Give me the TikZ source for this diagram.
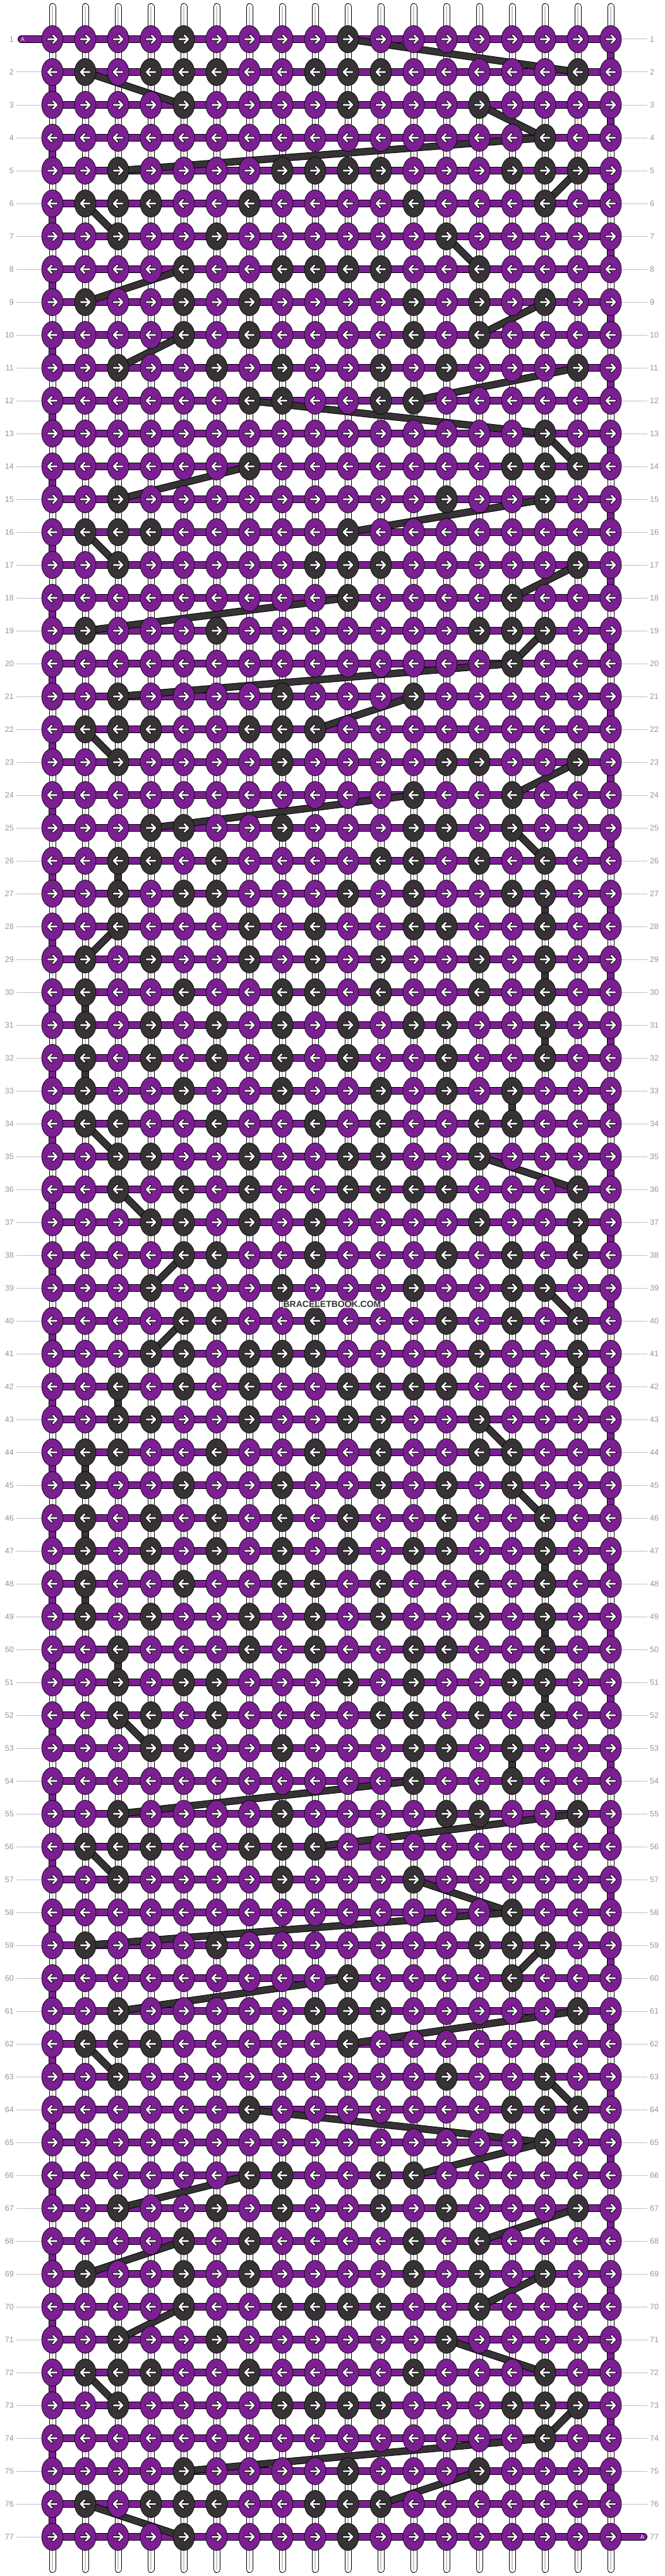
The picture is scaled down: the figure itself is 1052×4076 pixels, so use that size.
\documentclass[tikz,border=0pt]{standalone}
\usepackage{fontspec}
\setmainfont{Liberation Sans}
\usetikzlibrary{shapes.geometric}
\definecolor{purp}{RGB}{123,31,146}
\definecolor{dk}{RGB}{54,50,54}
\definecolor{numgray}{RGB}{150,150,150}
\definecolor{linegray}{RGB}{192,192,192}
\definecolor{stripe}{RGB}{200,200,200}
\pgfdeclarelayer{bg}
\pgfdeclarelayer{mid}
\pgfsetlayers{bg,mid,main}
\newcommand\rowdef[2]{\expandafter\gdef\csname dkrow#1\endcsname{#2}}
\rowdef{1}{5,10}
\rowdef{2}{2,4,5,6,9,10,11,17}
\rowdef{3}{5,10,14}
\rowdef{4}{16}
\rowdef{5}{3,8,9,10,11,15,16,17}
\rowdef{6}{2,3,4,7,12,16}
\rowdef{7}{3,6,13}
\rowdef{8}{5,8,9,10,11,14}
\rowdef{9}{2,5,7,12,14,16}
\rowdef{10}{5,7,12,14}
\rowdef{11}{3,6,8,11,13,17}
\rowdef{12}{7,8,11,12}
\rowdef{13}{16}
\rowdef{14}{7,15,16,17}
\rowdef{15}{3,13,16}
\rowdef{16}{2,3,4,10}
\rowdef{17}{3,9,10,11,17}
\rowdef{18}{10,15}
\rowdef{19}{2,6,14,15,16}
\rowdef{20}{15}
\rowdef{21}{3,8,12}
\rowdef{22}{2,3,4,7,8,9}
\rowdef{23}{3,8,13,14,17}
\rowdef{24}{12,15}
\rowdef{25}{4,5,8,12,13,15}
\rowdef{26}{3,4,6,11,12,14,16}
\rowdef{27}{3,5,6,10,12,15,16}
\rowdef{28}{3,7,9,12,13,16}
\rowdef{29}{2,4,7,9,11,14,16}
\rowdef{30}{2,5,8,9,11,14,16}
\rowdef{31}{2,4,6,8,10,12,13,16}
\rowdef{32}{2,4,6,8,10,13,16}
\rowdef{33}{2,5,8,11,13,15}
\rowdef{34}{2,3,6,9,11,14,15}
\rowdef{35}{3,4,7,10,11,14}
\rowdef{36}{3,5,7,10,11,12,13,17}
\rowdef{37}{4,5,7,9,14,17}
\rowdef{38}{5,6,9,13,15,17}
\rowdef{39}{4,8,12,15,16}
\rowdef{40}{5,6,9,13,15,17}
\rowdef{41}{4,5,7,8,9,14,17}
\rowdef{42}{3,5,7,10,11,12,13,17}
\rowdef{43}{3,4,7,10,11,14}
\rowdef{44}{2,3,6,9,11,14,15}
\rowdef{45}{2,5,8,11,13,15}
\rowdef{46}{2,4,6,8,10,13,16}
\rowdef{47}{2,4,6,8,10,12,13,16}
\rowdef{48}{2,5,8,9,11,14,16}
\rowdef{49}{2,4,7,9,11,14,16}
\rowdef{50}{3,7,9,12,13,16}
\rowdef{51}{3,5,6,10,12,15,16}
\rowdef{52}{3,4,6,11,12,14,16}
\rowdef{53}{4,5,8,12,13,15}
\rowdef{54}{12,15}
\rowdef{55}{3,8,13,14,17}
\rowdef{56}{2,3,4,7,8,9}
\rowdef{57}{3,8,12}
\rowdef{58}{15}
\rowdef{59}{2,6,14,15,16}
\rowdef{60}{10,15}
\rowdef{61}{3,9,10,11,17}
\rowdef{62}{2,3,4,10}
\rowdef{63}{3,13,16}
\rowdef{64}{7,15,16,17}
\rowdef{65}{16}
\rowdef{66}{7,8,11,12}
\rowdef{67}{3,6,8,11,13,17}
\rowdef{68}{5,7,12,14}
\rowdef{69}{2,5,7,12,14,16}
\rowdef{70}{5,8,9,10,11,14}
\rowdef{71}{3,6,13}
\rowdef{72}{2,3,4,7,12,16}
\rowdef{73}{3,8,9,10,11,15,16,17}
\rowdef{74}{16}
\rowdef{75}{5,10,14}
\rowdef{76}{2,4,5,6,9,10,11}
\rowdef{77}{5,10}
\newcommand\bbminmax[1]{%
  \gdef\mymin{99}\gdef\mymax{0}%
  \edef\mmlist{\csname dkrow#1\endcsname}%
  \foreach \q in \mmlist {%
    \ifnum\q<\mymin\relax\xdef\mymin{\q}\fi
    \ifnum\q>\mymax\relax\xdef\mymax{\q}\fi}%
}
\tikzset{
  knot/.style={ellipse, draw=black, line width=0.7pt, minimum width=34pt, minimum height=43pt, inner sep=0pt, outer sep=0pt},
  strout/.style={line width=11pt, line cap=round, draw=black},
  strin/.style={line width=9pt, line cap=round, draw=white},
  strmid/.style={line width=2pt, line cap=round, draw=stripe},
  aout/.style={line width=12pt, line cap=round, draw=black},
  ain/.style={line width=10pt, line cap=round, draw=purp},
  dlout/.style={line width=11.5pt, draw=black},
  dlin/.style={line width=9.5pt, draw=dk},
  arrout/.style={line width=4.4pt, draw=black, line cap=round, line join=round},
  arrin/.style={line width=2.6pt, draw=white, line cap=round, line join=round},
  numlab/.style={text=numgray, font=\fontsize{12.5}{14}\selectfont, inner sep=0pt},
  gline/.style={draw=linegray, line width=1pt},
  alab/.style={text=white, font=\fontsize{9}{10}\selectfont, inner sep=0pt},
  wm/.style={text=dk, font=\bfseries\fontsize{14}{16}\selectfont, fill=white, fill opacity=0.6, text opacity=1, inner sep=1pt}
}
\begin{document}
\begin{tikzpicture}[x=1pt,y=-1pt]
\useasboundingbox (0,0) rectangle (1052,4076);
\begin{pgfonlayer}{bg}
\fill[white] (0,0) rectangle (1052,4076);
\end{pgfonlayer}
% knots
\foreach \r in {1,...,77} {
  \pgfmathsetmacro\yy{62+(\r-1)*52}
  \edef\dlist{\csname dkrow\r\endcsname}
  \foreach \c in {1,...,18} {
    \gdef\kcol{purp}
    \foreach \d in \dlist {\ifnum\d=\c\relax\gdef\kcol{dk}\fi}
    \node[knot, fill=\kcol] (k-\r-\c) at ({83+(\c-1)*52}, \yy) {};
  }
  % arrows
  \ifodd\r\relax
    \draw[arrout] \foreach \c in {1,...,18} { ({83+(\c-1)*52-7},\yy) -- ++(14,0) ++(-6,-6) -- ++(6,6) -- ++(-6,6) };
    \draw[arrin] \foreach \c in {1,...,18} { ({83+(\c-1)*52-7},\yy) -- ++(14,0) ++(-6,-6) -- ++(6,6) -- ++(-6,6) };
  \else
    \draw[arrout] \foreach \c in {1,...,18} { ({83+(\c-1)*52+7},\yy) -- ++(-14,0) ++(6,-6) -- ++(-6,6) -- ++(6,6) };
    \draw[arrin] \foreach \c in {1,...,18} { ({83+(\c-1)*52+7},\yy) -- ++(-14,0) ++(6,-6) -- ++(-6,6) -- ++(6,6) };
  \fi
  % row numbers
  \node[numlab, anchor=east] (ln-\r) at (22,\yy) {\r};
  \node[numlab, anchor=west] (rn-\r) at (1029,\yy) {\r};
}
% strings, A path, guide lines
\begin{pgfonlayer}{bg}
\foreach \c in {1,...,18} {
  \coordinate (st-\c) at ({83+(\c-1)*52},10.5);
  \coordinate (sb-\c) at ({83+(\c-1)*52},4065.5);
  \draw[strout] (st-\c) -- (sb-\c);
  \draw[strin] (st-\c) -- (sb-\c);
  \draw[strmid] (st-\c) -- (sb-\c);
}
\foreach \r in {2,...,77} { \draw[gline] ([xshift=4pt]ln-\r.east) -- (k-\r-1.center); }
\foreach \r in {1,...,76} { \draw[gline] (k-\r-18.center) -- ([xshift=-4pt]rn-\r.west); }
\coordinate (astart) at (34,62);
\coordinate (aend) at (1019,4014);
\draw[aout] (astart) \foreach \r [evaluate=\r as \ra using int(\r+1), evaluate=\r as \rb using int(\r+2)] in {1,3,...,75} { -- (k-\r-18.center) -- (k-\ra-18.center) -- (k-\ra-1.center) -- (k-\rb-1.center) } -- (aend);
\draw[ain] (astart) \foreach \r [evaluate=\r as \ra using int(\r+1), evaluate=\r as \rb using int(\r+2)] in {1,3,...,75} { -- (k-\r-18.center) -- (k-\ra-18.center) -- (k-\ra-1.center) -- (k-\rb-1.center) } -- (aend);
\end{pgfonlayer}
% dark carry lines
\begin{pgfonlayer}{mid}
\foreach \r in {1,...,76} {
  \pgfmathtruncatemacro\rn{\r+1}
  \bbminmax{\r}
  \ifodd\r\relax \xdef\fromc{\mymax}\else \xdef\fromc{\mymin}\fi
  \bbminmax{\rn}
  \ifodd\rn\relax \xdef\toc{\mymin}\else \xdef\toc{\mymax}\fi
  \draw[dlout] (k-\r-\fromc.center) -- (k-\rn-\toc.center);
  \draw[dlin] (k-\r-\fromc.center) -- (k-\rn-\toc.center);
}
\end{pgfonlayer}
\node[alab] (alab1) at (36,62) {A};
\node[alab] (alab2) at (1017,4014) {A};
\node[wm] (wm) at (526,2064) {BRACELETBOOK.COM};
\end{tikzpicture}
\end{document}
